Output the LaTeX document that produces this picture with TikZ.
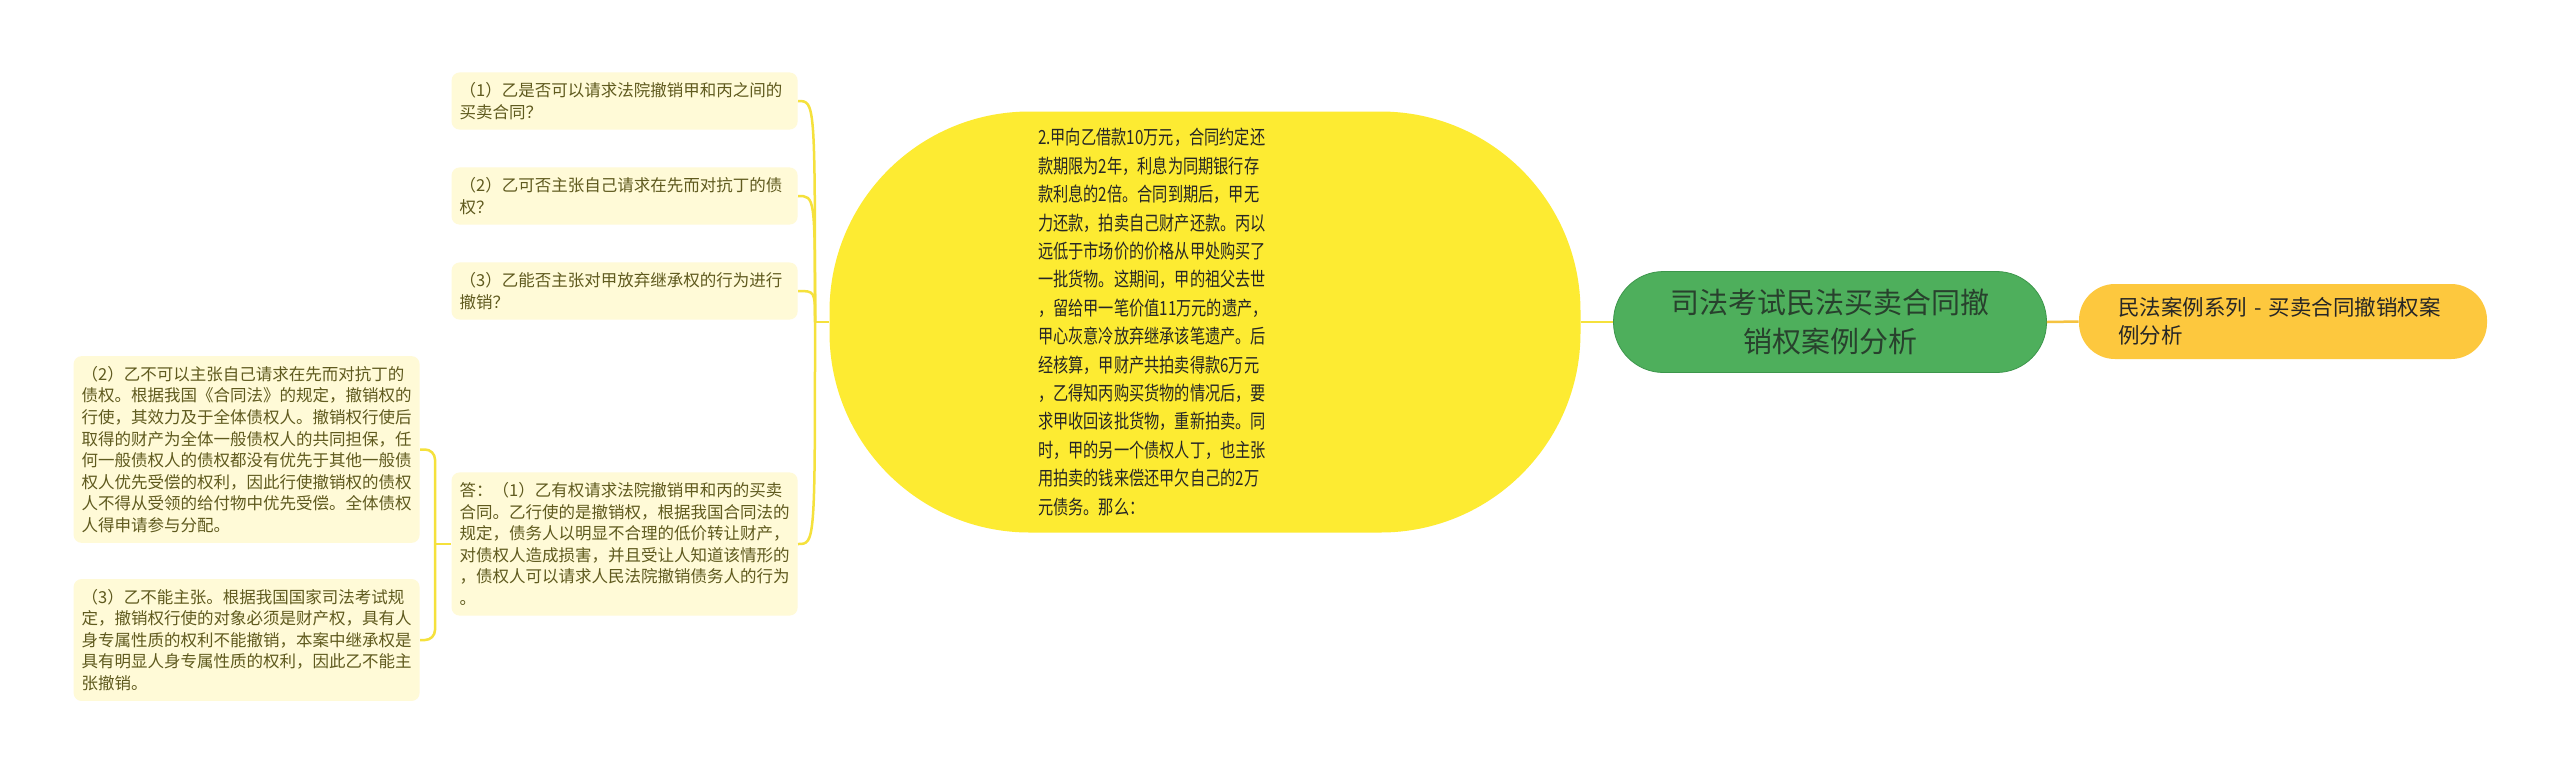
\documentclass[tikz,border=0pt]{standalone}
\usepackage{fontspec}
\setmainfont{Noto Sans CJK SC}
\newfontfamily\narrowcjk[FakeStretch=0.78]{Noto Sans CJK SC}
\definecolor{leafbg}{RGB}{255,250,215}
\definecolor{leaftext}{RGB}{95,90,30}
\definecolor{caseyellow}{RGB}{253,235,50}
\definecolor{linkyellow}{RGB}{245,225,60}
\definecolor{rootgreen}{RGB}{78,175,92}
\definecolor{rootedge}{RGB}{60,150,75}
\definecolor{roottext}{RGB}{40,65,45}
\definecolor{tagorange}{RGB}{253,200,62}
\definecolor{linkorange}{RGB}{245,195,65}
\begin{document}
\begin{tikzpicture}[x=0.5pt,y=-0.5pt,
  leaf/.style={fill=leafbg,rounded corners=4pt,text=leaftext,align=left,
    font=\fontsize{8.25}{10.8}\selectfont,inner xsep=4pt,inner ysep=5pt,text width=165pt},
  link/.style={draw=linkyellow,line width=1.25pt}]
\useasboundingbox[fill=white] (0,0) rectangle (2560,773);

\node[fill=caseyellow,rounded corners=100pt,minimum width=375.5pt,minimum height=210.5pt,
  text width=167pt,align=left,text=black!85,font=\fontsize{9.75}{14.2}\selectfont\narrowcjk] (case) at (1205,322)
  {2.甲向乙借款10万元，合同约定还\\款期限为2年，利息为同期银行存\\款利息的2倍。合同到期后，甲无\\力还款，拍卖自己财产还款。丙以\\远低于市场价的价格从甲处购买了\\一批货物。这期间，甲的祖父去世\\，留给甲一笔价值11万元的遗产，\\甲心灰意冷放弃继承该笔遗产。后\\经核算，甲财产共拍卖得款6万元\\，乙得知丙购买货物的情况后，要\\求甲收回该批货物，重新拍卖。同\\时，甲的另一个债权人丁，也主张\\用拍卖的钱来偿还甲欠自己的2万\\元债务。那么：};

\node[fill=rootgreen,draw=rootedge,rounded corners=25pt,minimum width=216.5pt,minimum height=50.5pt,
  align=center,text=roottext,font=\fontsize{14.5}{19.5}\selectfont] (root) at (1830,322)
  {司法考试民法买卖合同撤\\销权案例分析};

\node[fill=tagorange,rounded corners=18pt,minimum width=204pt,minimum height=37.5pt,
  text width=165pt,align=left,text=black!85,font=\fontsize{10.75}{14}\selectfont] (tag) at (2283,321.5)
  {民法案例系列 - 买卖合同撤销权案\\例分析};

\node[leaf,anchor=east] (q1) at (798,101) {（1）乙是否可以请求法院撤销甲和丙之间的\\买卖合同？};
\node[leaf,anchor=east] (q2) at (798,196) {（2）乙可否主张自己请求在先而对抗丁的债\\权？};
\node[leaf,anchor=east] (q3) at (798,291) {（3）乙能否主张对甲放弃继承权的行为进行\\撤销？};
\node[leaf,anchor=east] (ans) at (798,544) {答：（1）乙有权请求法院撤销甲和丙的买卖\\合同。乙行使的是撤销权，根据我国合同法的\\规定，债务人以明显不合理的低价转让财产，\\对债权人造成损害，并且受让人知道该情形的\\，债权人可以请求人民法院撤销债务人的行为\\。};
\node[leaf,anchor=east] (a2) at (420,449.5) {（2）乙不可以主张自己请求在先而对抗丁的\\债权。根据我国《合同法》的规定，撤销权的\\行使，其效力及于全体债权人。撤销权行使后\\取得的财产为全体一般债权人的共同担保，任\\何一般债权人的债权都没有优先于其他一般债\\权人优先受偿的权利，因此行使撤销权的债权\\人不得从受领的给付物中优先受偿。全体债权\\人得申请参与分配。};
\node[leaf,anchor=east] (a3) at (420,640) {（3）乙不能主张。根据我国国家司法考试规\\定，撤销权行使的对象必须是财产权，具有人\\身专属性质的权利不能撤销，本案中继承权是\\具有明显人身专属性质的权利，因此乙不能主\\张撤销。};

\coordinate (jr) at (815,322);
\coordinate (jl) at (435,544);

\draw[link] (case.west) -- (jr);
\foreach \n in {q1,q2,q3,ans}
  \draw[link] (jr) .. controls (jr |- \n.east) .. (\n.east);
\draw[link] (ans.west) -- (jl);
\foreach \n in {a2,a3}
  \draw[link,rounded corners=5pt] (jl) |- (\n.east);

\draw[link] (case.east) -- (root.west);
\draw[draw=linkorange,line width=1.25pt] (root.east) -- (tag.west);

\end{tikzpicture}
\end{document}
